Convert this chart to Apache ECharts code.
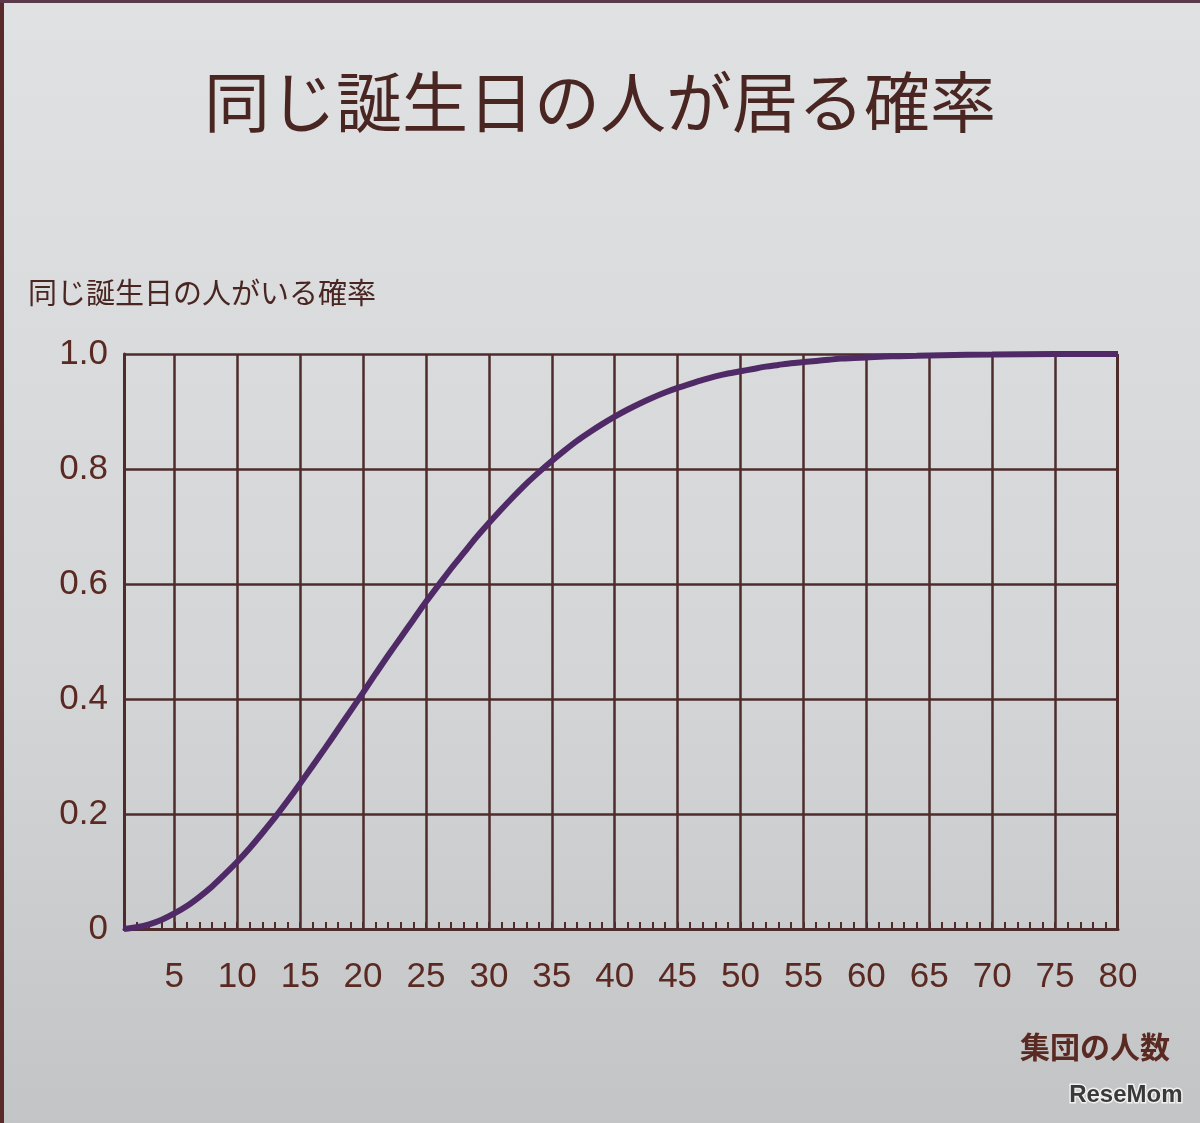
<!DOCTYPE html>
<html>
<head>
<meta charset="utf-8">
<script src="https://cdn.jsdelivr.net/npm/echarts@6/dist/echarts.min.js"></script>
<style>
html,body{margin:0;padding:0;background:#4a2a2a;}
#c{width:1200px;height:1123px;}
</style>
</head>
<body>
<div id="c"></div>
<script>
const titleText = '同じ誕生日の人が居る確率';
const yAxisName = '同じ誕生日の人がいる確率';
const xAxisName = '集団の人数';
const watermark = 'ReseMom';
const groupSizes = [1,2,3,4,5,6,7,8,9,10,11,12,13,14,15,16,17,18,19,20,21,22,23,24,25,26,27,28,29,30,31,32,33,34,35,36,37,38,39,40,41,42,43,44,45,46,47,48,49,50,51,52,53,54,55,56,57,58,59,60,62,64,66,70,75,80];
const probability = [0,0.003,0.008,0.016,0.027,0.040,0.056,0.074,0.095,0.117,0.141,0.167,0.194,0.223,0.253,0.284,0.315,0.347,0.379,0.411,0.444,0.476,0.507,0.538,0.569,0.598,0.627,0.654,0.681,0.706,0.730,0.753,0.775,0.795,0.814,0.832,0.849,0.864,0.878,0.891,0.903,0.914,0.924,0.933,0.941,0.948,0.955,0.961,0.966,0.970,0.974,0.978,0.981,0.984,0.986,0.988,0.990,0.992,0.993,0.994,0.996,0.997,0.998,0.999,1.0,1.0];
const xTickLabels = [5,10,15,20,25,30,35,40,45,50,55,60,65,70,75,80];
const xGridLines = [5,10,15,20,25,30,35,40,45,50,55,60,65,70,75];
const xMinorTicks = [2,3,4,5,6,7,8,9,10,11,12,13,14,15,16,17,18,19,20,21,22,23,24,25,26,27,28,29,30,31,32,33,34,35,36,37,38,39,40,41,42,43,44,45,46,47,48,49,50,51,52,53,54,55,56,57,58,59,60,61,62,63,64,65,66,67,68,69,70,71,72,73,74,75,76,77,78,79];
const yTickLabels = ['0','0.2','0.4','0.6','0.8','1.0'];

const gridColor = '#4e2c2c';
const textColor = '#5a2a22';
const numFont = '"Liberation Sans Narrow","Liberation Sans",Roboto,sans-serif';
const cjkFont = '"Noto Sans CJK JP","Noto Sans",sans-serif';

const chart = echarts.init(document.getElementById('c'));
chart.setOption({
  backgroundColor: {
    type: 'linear', x: 0, y: 0, x2: 0, y2: 1,
    colorStops: [{offset: 0, color: '#dfe1e2'}, {offset: 0.6, color: '#d3d5d6'}, {offset: 1, color: '#c3c4c6'}]
  },
  animation: false,
  title: {
    text: titleText,
    left: 'center',
    top: 64,
    textStyle: {fontFamily: cjkFont, fontSize: 66, fontWeight: 'normal', color: '#4a2622'}
  },
  grid: {left: 124, right: 82, top: 354, bottom: 194},
  xAxis: {
    type: 'value',
    min: 1, max: 80,
    name: xAxisName,
    nameLocation: 'end',
    nameGap: 0,
    nameTextStyle: {fontFamily: cjkFont, fontSize: 30, color: textColor, fontWeight: 'bold', align: 'right', verticalAlign: 'top', padding: [103, -52, 0, 0]},
    axisLine: {show: true, onZero: false, lineStyle: {color: gridColor, width: 3}},
    axisTick: {show: true, inside: true, length: 7, customValues: xMinorTicks, lineStyle: {color: gridColor, width: 2}},
    axisLabel: {
      customValues: xTickLabels,
      margin: 31,
      fontFamily: numFont, fontSize: 35, color: textColor,
      formatter: v => String(v)
    },
    splitLine: {show: false}
  },
  yAxis: {
    type: 'value',
    min: 0, max: 1, interval: 0.2,
    axisLine: {show: true, lineStyle: {color: gridColor, width: 3}},
    axisTick: {show: false},
    axisLabel: {
      margin: 16,
      fontFamily: numFont, fontSize: 35, color: textColor,
      formatter: (v) => yTickLabels[Math.round(v / 0.2)]
    },
    splitLine: {show: true, lineStyle: {color: gridColor, width: 2.5}}
  },
  graphic: [
    {type: 'text', left: 28, top: 278, style: {text: yAxisName, fontFamily: cjkFont, fontSize: 29, fill: '#4a2622'}},
    {type: 'rect', shape: {x: 1116, y: 354, width: 3, height: 575}, style: {fill: gridColor}, z: 5},
    {type: 'text', right: 16, bottom: 14, style: {text: watermark, fontFamily: '"Liberation Sans Narrow","Liberation Sans",sans-serif', fontSize: 24, fontWeight: 'bold', fill: '#3a3a3a', stroke: '#f0f0f0', lineWidth: 3}},
    {type: 'rect', shape: {x: 0, y: 0, width: 4, height: 1123}, style: {fill: '#5a2a2a'}},
    {type: 'rect', shape: {x: 0, y: 0, width: 1200, height: 3}, style: {fill: '#5a3a4a'}}
  ],
  series: [
    {
      type: 'line',
      data: groupSizes.map((g, i) => [g, probability[i]]),
      smooth: 0.3,
      showSymbol: false,
      lineStyle: {color: '#4f2a66', width: 6},
      z: 10,
      markLine: {
        silent: true,
        symbol: 'none',
        label: {show: false},
        lineStyle: {color: gridColor, width: 2.5, type: 'solid'},
        data: xGridLines.map(v => ({xAxis: v}))
      }
    }
  ]
});
</script>
</body>
</html>
